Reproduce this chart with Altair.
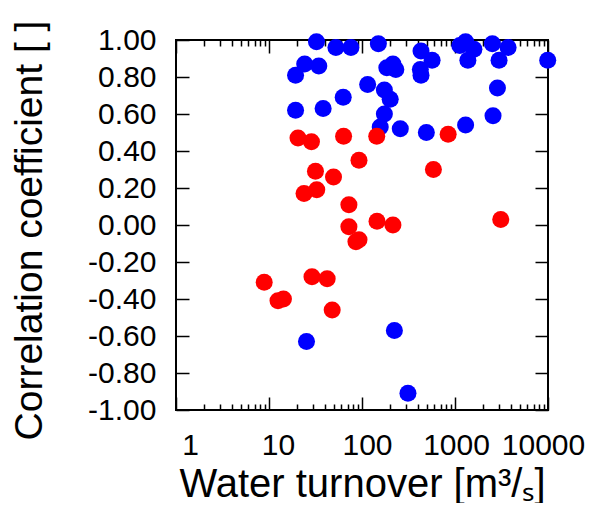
import altair as alt
import pandas as pd

# ---- data ----
blue_x = [32.4, 52.4, 76, 150, 431, 567, 1300, 1127, 1597, 2524, 3724, 9930, 1375, 2977,
          24.2, 34.3, 19.3, 185, 215, 231, 424, 431, 115, 174, 201, 62.8, 19.3, 38.2,
          174, 157, 258, 492, 1300, 2564, 2860, 25.3, 223, 312]
blue_y = [0.99, 0.96, 0.96, 0.98, 0.94, 0.89, 0.99, 0.97, 0.95, 0.98, 0.96, 0.89, 0.89, 0.89,
          0.87, 0.86, 0.81, 0.85, 0.87, 0.84, 0.84, 0.81, 0.76, 0.73, 0.68, 0.69, 0.62, 0.63,
          0.60, 0.53, 0.52, 0.50, 0.54, 0.59, 0.74, -0.63, -0.57, -0.91]

red_x = [20.5, 28.6, 63.4, 144, 844, 92.8, 586, 31.6, 49.4, 23.8, 32.6, 72.3, 72.3, 92.8,
         86.1, 145, 215, 3104, 8.88, 12.5, 14.3, 29.0, 42.2, 47.8]
red_y = [0.47, 0.45, 0.48, 0.48, 0.49, 0.35, 0.30, 0.29, 0.26, 0.17, 0.19, 0.11, -0.01, -0.08,
         -0.09, 0.02, 0.00, 0.03, -0.31, -0.41, -0.40, -0.28, -0.29, -0.46]

x_major = [1, 10, 100, 1000, 10000]
x_minor = [2, 3, 4, 5, 6, 7, 8, 9,
           20, 30, 40, 50, 60, 70, 80, 90,
           200, 300, 400, 500, 600, 700, 800, 900,
           2000, 3000, 4000, 5000, 6000, 7000, 8000, 9000]
y_major = [-1.0, -0.8, -0.6, -0.4, -0.2, 0.0, 0.2, 0.4, 0.6, 0.8, 1.0]

x_title = "Water turnover [m³/ₛ]"
y_title = "Correlation coefficient [ ]"

df_blue = pd.DataFrame({"turnover": blue_x, "corr": blue_y})
df_red = pd.DataFrame({"turnover": red_x, "corr": red_y})

FONT = "Liberation Sans"
W, H = 372, 370
MAJ, MIN = 13, 6
PT = 290

xscale = alt.Scale(type="log", domain=[1, 10000], nice=False)
yscale = alt.Scale(domain=[-1, 1], nice=False, zero=False)

common = dict(domain=False, grid=False, tickColor="black", tickWidth=1.5,
              labelFont=FONT, labelFontSize=30, labelColor="black",
              titleFont=FONT, titleFontWeight="normal", titleColor="black")

x_bottom = alt.Axis(orient="bottom", values=x_major, format="d", offset=-MAJ, tickSize=MAJ,
                    labelPadding=20, labelFlush=False, labelOverlap=False,
                    labelOffset={"condition": [
                        {"test": "datum.value == 1", "value": 14},
                        {"test": "datum.value == 10", "value": 9},
                        {"test": "datum.value == 100", "value": 5},
                        {"test": "datum.value == 1000", "value": 1},
                        {"test": "datum.value == 10000", "value": -5}], "value": 0},
                    title=x_title, titleFontSize=40, titleX=W / 2, titleY=99,
                    titleAlign="center", titleBaseline="alphabetic", **common)
y_left = alt.Axis(orient="left", values=y_major, offset=-MAJ, tickSize=MAJ, labelPadding=20,
                  labelExpr="replace(format(datum.value, '.2f'), '\u2212', '-')",
                  labelOverlap=False, labelFlush=False,
                  title=y_title, titleFontSize=39, titleAngle=270, titleX=-148, titleY=190,
                  titleAlign="center", titleBaseline="alphabetic", **common)
x_top = alt.Axis(orient="top", values=x_major, offset=-MAJ, tickSize=MAJ, labels=False,
                 title=None, **common)
y_right = alt.Axis(orient="right", values=y_major, offset=-MAJ, tickSize=MAJ, labels=False,
                   title=None, **common)
x_bottom_minor = alt.Axis(orient="bottom", values=x_minor, offset=-MIN, tickSize=MIN,
                          labels=False, title=None, **common)
x_top_minor = alt.Axis(orient="top", values=x_minor, offset=-MIN, tickSize=MIN,
                       labels=False, title=None, **common)

blue = alt.Chart(df_blue).mark_circle(size=PT, color="#0000ff", opacity=1).encode(
    x=alt.X("turnover:Q", scale=xscale, axis=x_bottom),
    y=alt.Y("corr:Q", scale=yscale, axis=y_left),
)
red = alt.Chart(df_red).mark_circle(size=PT, color="#ff0000", opacity=1).encode(
    x=alt.X("turnover:Q", scale=xscale, axis=x_top),
    y=alt.Y("corr:Q", scale=yscale, axis=y_right),
)
minor_b = alt.Chart(df_blue).mark_circle(opacity=0).encode(
    x=alt.X("turnover:Q", scale=xscale, axis=x_bottom_minor),
    y=alt.Y("corr:Q", scale=yscale, axis=None),
)
minor_t = alt.Chart(df_blue).mark_circle(opacity=0).encode(
    x=alt.X("turnover:Q", scale=xscale, axis=x_top_minor),
    y=alt.Y("corr:Q", scale=yscale, axis=None),
)

chart = alt.layer(blue, red, minor_b, minor_t).resolve_axis(
    x="independent", y="independent"
).properties(
    width=W, height=H,
    autosize=alt.AutoSizeParams(type="none"),
    padding={"left": 168, "top": 32, "right": 38, "bottom": 93},
).configure_view(stroke="black", strokeWidth=2)

chart.save("out.html", embed_options={"renderer": "svg", "actions": False})
